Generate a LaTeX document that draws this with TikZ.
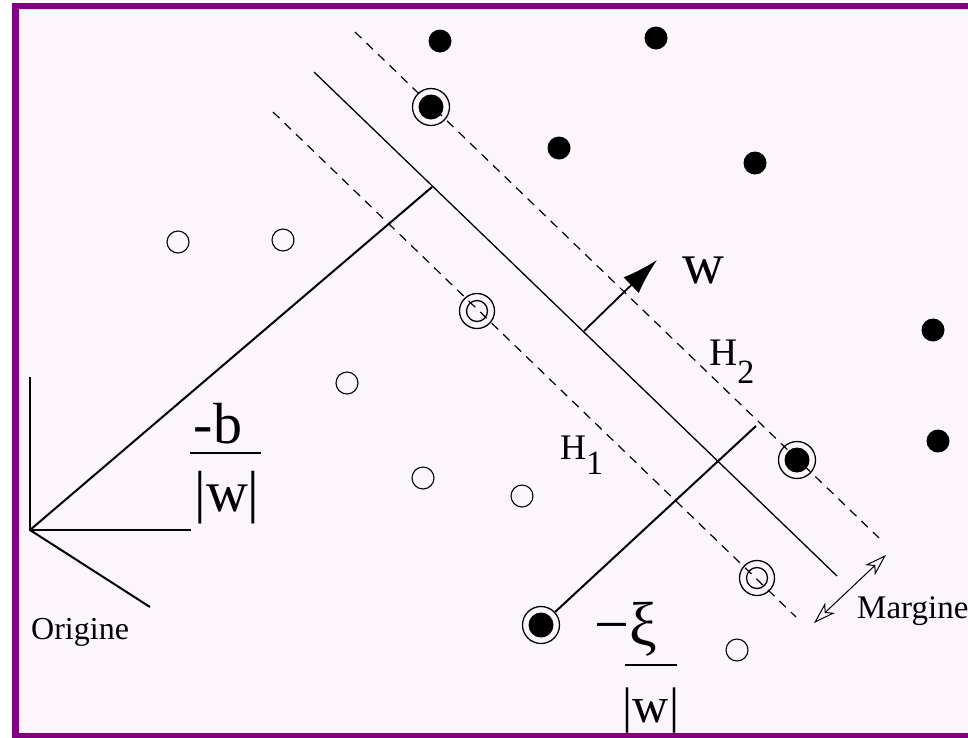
\documentclass[tikz,border=0pt]{standalone}
\usepackage{fontspec}
\setmainfont{Liberation Serif}
\usetikzlibrary{arrows.meta}
\definecolor{svmPurple}{RGB}{128,0,128}
\definecolor{svmPaper}{RGB}{252,246,252}
\definecolor{svmCyan}{RGB}{205,246,246}
\newcommand{\svmSize}[1]{\fontsize{#1}{#1}\selectfont}
\newcommand{\svmH}[2]{H\raisebox{-#2pt}{\svmSize{34}#1}}

\begin{document}
\begin{tikzpicture}[x=1pt,y=-1pt,
  plein/.style={circle, fill=black, inner sep=0pt, minimum size=23pt},
  vide/.style={circle, draw, line width=1.1pt, inner sep=0pt, minimum size=22pt},
  supplein/.style={circle, draw, line width=1.3pt, inner sep=0pt, minimum size=37pt,
    path picture={\fill (path picture bounding box.center) circle (12.5pt);}},
  supvide/.style={circle, draw, line width=1.3pt, inner sep=0pt, minimum size=35pt,
    path picture={\draw[line width=1.3pt] (path picture bounding box.center) circle (10.5pt);}},
  etiq/.style={anchor=base, inner sep=0pt},
  plan/.style={line width=1.3pt},
  marge/.style={line width=1.2pt, dash pattern=on 9pt off 7pt},
  normale/.style={line width=2pt},
  barre/.style={line width=2pt},
  pointe/.tip={Stealth[open, length=22pt, width=14pt, inset=6pt]}]
\path[use as bounding box, clip] (0,0) rectangle (968,737);
\fill[white] (0,0) rectangle (968,737);
\fill[svmPurple] (12,3) rectangle (990,750);
\fill[svmPaper] (19,9) rectangle (990,733);
\draw[svmCyan, line width=1pt] (19,9.8) -- (990,9.8);

\node[plein] (p1) at (440,41) {};
\node[plein] (p2) at (656,38) {};
\node[plein] (p3) at (559,148) {};
\node[plein] (p4) at (755,163) {};
\node[plein] (p5) at (933,330) {};
\node[plein] (p6) at (938,441) {};
\node[supplein] (s1) at (431,107) {};
\node[supplein] (s2) at (797,460) {};
\node[supplein] (s3) at (541,625) {};

\node[vide] (n1) at (178,242) {};
\node[vide] (n2) at (283,240) {};
\node[vide] (n3) at (347,383) {};
\node[vide] (n4) at (423,478) {};
\node[vide] (n5) at (522,496) {};
\node[vide] (n6) at (737,650) {};
\node[supvide] (v1) at (477,311) {};
\node[supvide] (v2) at (757,578) {};

\coordinate (hA) at (314,72);
\coordinate (hB) at (837,576);
\coordinate (dA) at (355,32);
\coordinate (dB) at (879,538);
\coordinate (uA) at (273,112);
\coordinate (uB) at (796,617);
\coordinate (O) at (30,530);
\coordinate (axeY) at (30,377);
\coordinate (axeX) at (191,530);
\coordinate (axeZ) at (150,607);
\coordinate (pied) at (432,187);
\coordinate (wA) at (584,331);
\coordinate (wB) at (657,260);
\coordinate (xiTop) at (756,426);
\coordinate (mA) at (814,623);
\coordinate (mB) at (886,555);

\draw[plan] (hA) -- (hB);
\draw[marge] (dA) -- (dB);
\draw[marge] (uA) -- (uB);
\draw[normale] (axeY) -- (O) -- (axeX);
\draw[normale] (O) -- (axeZ);
\draw[normale] (O) -- (pied);
\draw[normale] (s3) -- (xiTop);
\draw[line width=1.8pt, -{Latex[length=36pt, width=22pt]}] (wA) -- (wB);
\draw[line width=1pt, pointe-pointe] (mA) -- (mB);

\node[etiq] (w) at (703,283) {\svmSize{58}w};
\node[etiq, anchor=base west] (h2) at (709,365) {\svmSize{39}\svmH{2}{18}};
\node[etiq, anchor=base west] (h1) at (560,459) {\svmSize{36}\svmH{1}{15}};
\node[etiq, anchor=base west] (orig) at (31,639) {\svmSize{32}Origine};
\node[etiq, anchor=base west] (marg) at (857,618) {\svmSize{33}Margine};

\node[etiq] (bnum) at (218,443) {\svmSize{58}-b};
\node[etiq] (bden) at (227,511) {\svmSize{58}|w|};
\draw[barre] (190,453) -- (261,453);

\node[etiq, anchor=base west] (xinum) at (594,645) {\svmSize{62}−ξ};
\node[etiq] (xiden) at (651,722) {\svmSize{50}|w|};
\draw[barre] (625,665) -- (677,665);
\end{tikzpicture}
\end{document}
